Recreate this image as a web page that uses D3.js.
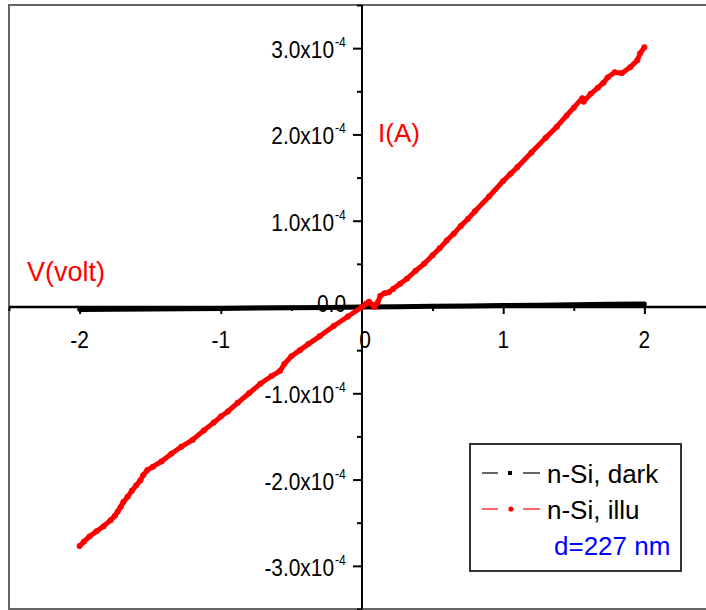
<!DOCTYPE html>
<html><head><meta charset="utf-8">
<script src="https://cdn.jsdelivr.net/npm/d3@7"></script>
<style>
html,body{margin:0;padding:0;background:#fff;}
svg{display:block;}
text{font-family:"Liberation Sans",Arial,sans-serif;}
</style></head>
<body><svg id="chart" width="706" height="610"></svg>
<script>
// ---- data (V in volts, I in amperes) ----
const illuV = [-2.00,-1.97,-1.93,-1.88,-1.83,-1.78,-1.75,-1.73,-1.71,-1.69,-1.66,-1.63,-1.60,-1.57,-1.55,-1.52,-1.48,-1.42,-1.35,-1.28,-1.20,-1.12,-1.05,-1.00,-0.95,-0.88,-0.80,-0.72,-0.64,-0.58,-0.55,-0.50,-0.44,-0.38,-0.30,-0.20,-0.10,0.00,
  0.03,0.05,0.07,0.09,0.11,0.13,0.16,0.19,0.22,0.27,0.32,0.38,0.44,0.50,0.55,0.60,0.65,0.70,0.75,0.80,0.90,1.00,1.05,1.10,1.20,1.30,1.38,1.45,1.50,1.56,1.57,1.62,1.67,1.71,1.74,1.79,1.84,1.90,1.95,1.97,2.00];
const illuI = [-2.77,-2.72,-2.66,-2.60,-2.54,-2.47,-2.42,-2.37,-2.32,-2.26,-2.20,-2.13,-2.07,-2.01,-1.95,-1.89,-1.85,-1.79,-1.70,-1.62,-1.54,-1.43,-1.34,-1.27,-1.21,-1.11,-1.00,-0.89,-0.80,-0.74,-0.66,-0.57,-0.50,-0.43,-0.34,-0.22,-0.11,0.00,
  0.04,0.06,0.03,0.00,0.05,0.13,0.16,0.17,0.21,0.27,0.33,0.42,0.50,0.60,0.68,0.77,0.85,0.94,1.02,1.11,1.28,1.46,1.54,1.62,1.79,1.96,2.09,2.22,2.31,2.42,2.38,2.47,2.54,2.60,2.66,2.72,2.71,2.78,2.86,2.94,3.01].map(v => v * 1e-4);
const darkV = [-2.00,-1.75,-1.50,-1.25,-1.00,-0.75,-0.50,-0.25,0.00,0.25,0.50,0.75,1.00,1.25,1.50,1.75,2.00];
const darkI = [-0.030,-0.027,-0.024,-0.020,-0.017,-0.013,-0.009,-0.005,0.000,0.004,0.008,0.012,0.016,0.021,0.026,0.031,0.036].map(v => v * 1e-4);
const xTickValues = [-2,-1,0,1,2];
const xTickLabels = ["-2","-1","0","1","2"];
const yTickValues = [-3e-4,-2e-4,-1e-4,0,1e-4,2e-4,3e-4];
const yTickLabels = ["-3.0x10","-2.0x10","-1.0x10","0.0","1.0x10","2.0x10","3.0x10"];
const yTickExp = ["-4","-4","-4","","-4","-4","-4"];
const seriesNames = ["n-Si, dark","n-Si, illu"];
const seriesColors = ["#000000","#ff0000"];
const noteText = "d=227 nm";
const xAxisTitle = "V(volt)";
const yAxisTitle = "I(A)";

// ---- chart ----
const svg = d3.select("#chart");
const x = d3.scaleLinear().domain([-2.5, 2.5]).range([9, 715]);
const y = d3.scaleLinear().domain([-3.5e-4, 3.5e-4]).range([609, 5]);
const NARROW = 0.87;

// frame
svg.append("rect").attr("x", 9).attr("y", 5).attr("width", 706).attr("height", 604)
  .attr("fill", "none").attr("stroke", "#666").attr("stroke-width", 2);

// x axis
const xMinor = d3.range(-2.5, 2.51, 0.5).filter(v => Math.abs(v % 1) > 0.1);
const gx = svg.append("g").attr("transform", `translate(0,${y(0)})`);
gx.call(d3.axisBottom(x).tickValues(xTickValues.filter(v => v !== 0)).tickSize(7).tickFormat("").tickSizeOuter(0));
gx.append("g").call(d3.axisBottom(x).tickValues(xMinor).tickSize(4).tickFormat("").tickSizeOuter(0));
gx.selectAll("path.domain").remove();
gx.selectAll("line").attr("stroke", "#000").attr("stroke-width", 2);

// y axis
const yMinor = d3.range(-3.5, 3.51, 1).map(v => v * 1e-4);
const gy = svg.append("g").attr("transform", `translate(${x(0)},0)`);
gy.call(d3.axisLeft(y).tickValues(yTickValues.filter(v => v !== 0)).tickSize(9).tickFormat("").tickSizeOuter(0));
gy.append("g").call(d3.axisLeft(y).tickValues(yMinor).tickSize(5).tickFormat("").tickSizeOuter(0));
gy.selectAll("path.domain").remove();
gy.selectAll("line").attr("stroke", "#000").attr("stroke-width", 2);

// axis lines
svg.append("line").attr("x1", 9).attr("x2", 715).attr("y1", y(0)).attr("y2", y(0)).attr("stroke", "#000").attr("stroke-width", 2.5);
svg.append("line").attr("x1", x(0)).attr("x2", x(0)).attr("y1", 5).attr("y2", 609).attr("stroke", "#000").attr("stroke-width", 2);

// dark curve
const line = d3.line().x(d => x(d[0])).y(d => y(d[1]));
const darkData = darkV.map((v, i) => [v, darkI[i]]);
svg.append("path").datum(darkData).attr("d", line).attr("fill", "none")
  .attr("stroke", seriesColors[0]).attr("stroke-width", 5).attr("stroke-linecap", "round");

// illuminated curve
const illuData = illuV.map((v, i) => [v, illuI[i]]);
svg.append("path").datum(illuData).attr("d", line).attr("fill", "none")
  .attr("stroke", seriesColors[1]).attr("stroke-width", 5).attr("stroke-linecap", "round").attr("stroke-linejoin", "round");
svg.append("g").selectAll("circle").data(illuData).join("circle")
  .attr("cx", d => x(d[0])).attr("cy", d => y(d[1])).attr("r", 3).attr("fill", seriesColors[1]);

// helper for condensed text
function narrowText(g, tx, ty, str, size, anchor) {
  return g.append("text").attr("transform", `translate(${tx},${ty}) scale(${NARROW},1)`)
    .attr("text-anchor", anchor).attr("font-size", size).attr("fill", "#000").text(str);
}

// x tick labels
const xl = svg.append("g");
xTickValues.forEach((v, i) => narrowText(xl, x(v) + (v === 0 ? 3 : 0), y(0) + 41, xTickLabels[i], 24, "middle"));

// y tick labels
const yl = svg.append("g");
yTickValues.forEach((v, i) => {
  if (yTickExp[i] === "") {
    narrowText(yl, 346, y(v) + 5, yTickLabels[i], 24, "end");
  } else {
    narrowText(yl, 334, y(v) + 10, yTickLabels[i], 24, "end");
    narrowText(yl, 335, y(v) - 1, yTickExp[i], 14, "start");
  }
});

// axis titles
svg.append("text").attr("x", 27).attr("y", 281).attr("font-size", 27).attr("fill", "#ff0000").text(xAxisTitle);
svg.append("text").attr("x", 378).attr("y", 142).attr("font-size", 26).attr("fill", "#ff0000").text(yAxisTitle);

// legend
const lg = svg.append("g");
lg.append("rect").attr("x", 470).attr("y", 444).attr("width", 211).attr("height", 127)
  .attr("fill", "#fff").attr("stroke", "#333").attr("stroke-width", 2);
const rowsY = [473, 509];
seriesNames.forEach((name, i) => {
  const yy = rowsY[i];
  lg.append("line").attr("x1", 482).attr("x2", 498).attr("y1", yy).attr("y2", yy).attr("stroke", seriesColors[i]).attr("stroke-width", 1.2);
  lg.append("line").attr("x1", 523).attr("x2", 540).attr("y1", yy).attr("y2", yy).attr("stroke", seriesColors[i]).attr("stroke-width", 1.2);
  if (i === 0) {
    lg.append("rect").attr("x", 508).attr("y", yy - 2).attr("width", 4).attr("height", 4).attr("fill", seriesColors[i]);
  } else {
    lg.append("circle").attr("cx", 511).attr("cy", yy).attr("r", 2.6).attr("fill", seriesColors[i]);
  }
  lg.append("text").attr("x", 547).attr("y", yy + 10).attr("font-size", 26).attr("fill", "#000").text(name);
});
lg.append("text").attr("x", 554).attr("y", 555).attr("font-size", 26).attr("fill", "#0000ff").text(noteText);
</script></body></html>
